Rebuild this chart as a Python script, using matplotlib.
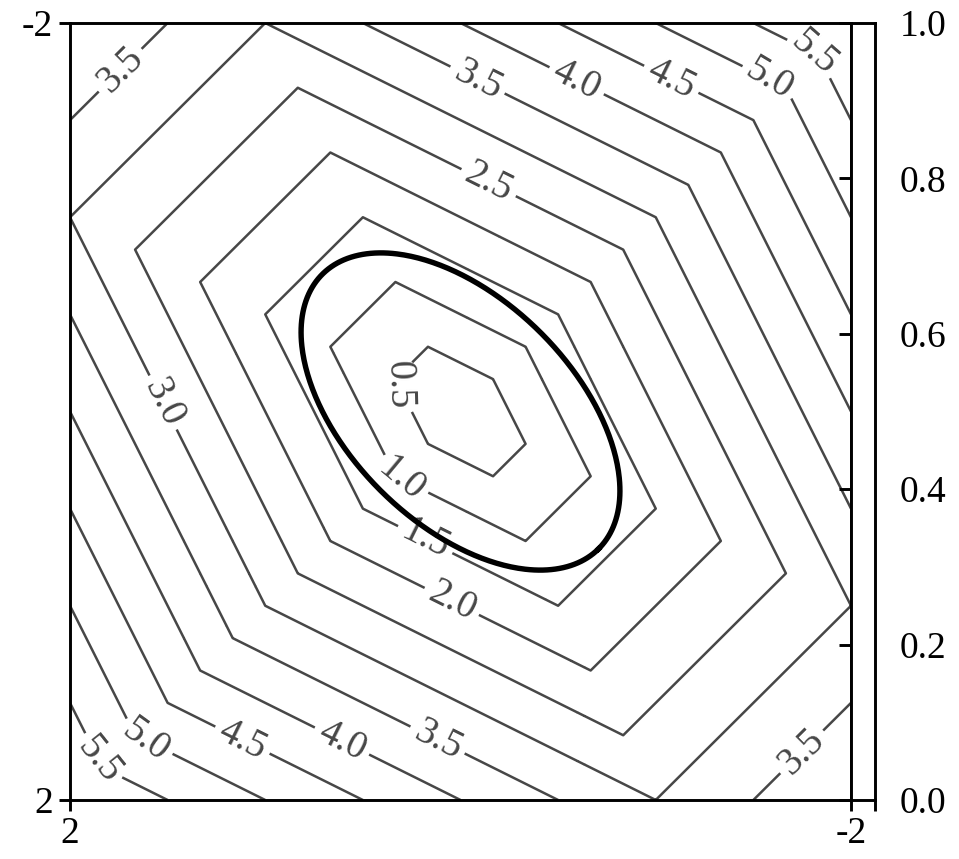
import numpy as np
import matplotlib
matplotlib.use("Agg")
import matplotlib.pyplot as plt

# Contour levels of the hexagonal norm
levels = [0.5, 1.0, 1.5, 2.0, 2.5, 3.0, 3.5, 4.0, 4.5, 5.0, 5.5]
# Linear functionals whose absolute maximum defines the norm
hex_normals = [(1.0, 2.0), (2.0, 1.0), (1.0, -1.0)]
# Quadratic form and level of the reference ellipse  x^T A x = c
quad_form = [[1.0, 0.5], [0.5, 1.0]]
ellipse_level = 0.5
# Axis ticks
x_ticks = [2, -2]
x_ticklabels = ["2", "-2"]
y_ticks = [-2, 2]
y_ticklabels = ["-2", "2"]
bar_ticks = [0.0, 0.2, 0.4, 0.6, 0.8, 1.0]
bar_ticklabels = ["0.0", "0.2", "0.4", "0.6", "0.8", "1.0"]

plt.rcParams["font.family"] = ["Liberation Serif", "DejaVu Serif"]

W, H = 959, 859
fig = plt.figure(figsize=(W / 100, H / 100), dpi=100)

left, right, top, bottom = 70, 851, 23, 800
ax = fig.add_axes([left / W, 1 - bottom / H, (right - left) / W, (bottom - top) / H])
cax = fig.add_axes([right / W, 1 - bottom / H, 24 / W, (bottom - top) / H])

# Field
g = np.linspace(-2, 2, 241)
X, Y = np.meshgrid(g, g)
Z = np.max([np.abs(a * X + b * Y) for a, b in hex_normals], axis=0)

line_color = "#474747"
cs = ax.contour(X, Y, Z, levels=levels, colors=line_color, linewidths=1.8)

label_spots = [
    (1.744, -1.758), (1.498, -0.059), (-0.10, -1.732), (-0.602, -1.717),
    (-1.083, -1.717), (-1.595, -1.732), (-1.815, -1.85), (-0.151, -1.192),
    (0.32, -0.136), (0.29, 0.32), (0.182, 0.662), (0.028, 0.944),
    (0.105, 1.666), (0.592, 1.666), (1.104, 1.666), (1.60, 1.666),
    (1.872, 1.805), (-1.713, 1.717),
]
ax.clabel(cs, fmt="%.1f", fontsize=28, colors=line_color,
          manual=label_spots, inline_spacing=6)

# Ellipse
A = np.array(quad_form)
lam, vec = np.linalg.eigh(A)
t = np.linspace(0, 2 * np.pi, 400)
circ = np.vstack([np.cos(t), np.sin(t)])
pts = vec @ (np.sqrt(ellipse_level / lam)[:, None] * circ)
ax.plot(pts[0], pts[1], color="black", lw=3.9, zorder=5)

ax.set_xlim(2, -2)
ax.set_ylim(2, -2)
ax.set_xticks(x_ticks)
ax.set_xticklabels(x_ticklabels)
ax.set_yticks(y_ticks)
ax.set_yticklabels(y_ticklabels)
ax.tick_params(direction="out", length=8, width=2.1, labelsize=27, pad=4)

cax.set_ylim(0, 1)
cax.set_xlim(0, 1)
cax.set_yticks(bar_ticks)
cax.set_yticklabels(bar_ticklabels)
cax.set_xticks([1])
cax.set_xticklabels([""])
cax.tick_params(axis="y", left=True, right=False, labelleft=False,
                labelright=True, direction="out", length=9, width=2.1,
                labelsize=27, pad=9)
cax.tick_params(axis="x", direction="out", length=8, width=2.1)

for a in (ax, cax):
    for s in a.spines.values():
        s.set_linewidth(2.1)

fig.savefig("out.png", dpi=100)
